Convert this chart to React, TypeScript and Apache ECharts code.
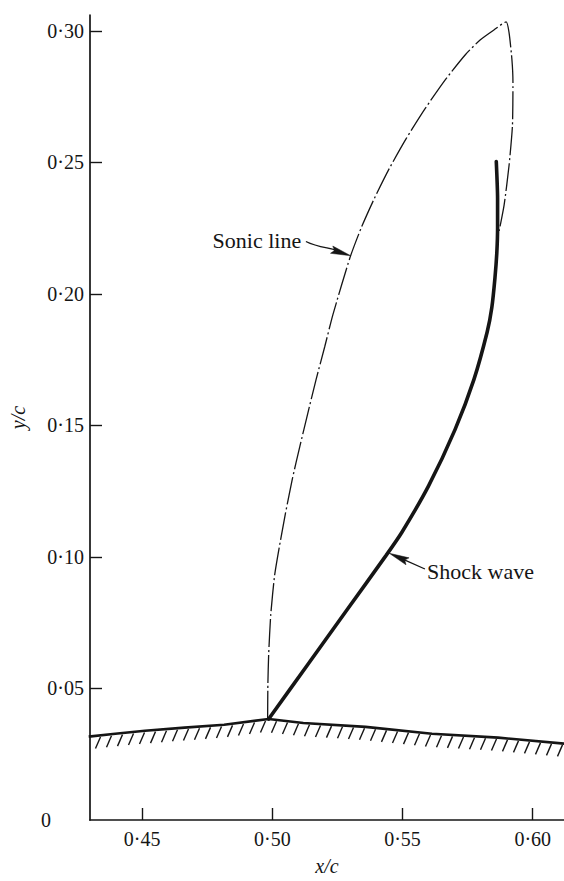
import React, { useEffect, useRef } from 'react';
import * as echarts from 'echarts';

// Tick values
const xTicks = [0.45, 0.5, 0.55, 0.6];
const yTicks = [0, 0.05, 0.1, 0.15, 0.2, 0.25, 0.3];

// Wall (body surface)
const wallX = [0.4295, 0.4397, 0.4511, 0.4663, 0.4815, 0.4986, 0.5119, 0.5358, 0.5613, 0.5867, 0.6122];
const wallY = [0.0317, 0.0328, 0.0339, 0.0351, 0.0362, 0.0384, 0.0369, 0.0354, 0.0328, 0.0313, 0.029];

// Shock wave (from top to foot)
const shockX = [0.586, 0.5865, 0.5865, 0.5862, 0.5855, 0.5843, 0.5825, 0.5774, 0.5702, 0.56, 0.5497, 0.5437, 0.5287, 0.5137, 0.4986];
const shockY = [0.2503, 0.2363, 0.225, 0.2156, 0.2062, 0.1949, 0.1855, 0.1674, 0.1485, 0.127, 0.1093, 0.1006, 0.0799, 0.0592, 0.0384];

// Sonic line (from foot, up over the top, down to the shock)
const sonicX = [0.4982, 0.4983, 0.4986, 0.4994, 0.5009, 0.5028, 0.5051, 0.5077, 0.5106, 0.5136, 0.5168, 0.5201, 0.5233, 0.5298, 0.5341, 0.5392, 0.5449, 0.5514, 0.5586, 0.5666, 0.5742, 0.5799, 0.5852, 0.5898, 0.5909, 0.592, 0.5924, 0.5922, 0.5909, 0.589, 0.5871];
const sonicY = [0.0384, 0.0516, 0.0629, 0.078, 0.0931, 0.1044, 0.1168, 0.1297, 0.1421, 0.1545, 0.1674, 0.1798, 0.1922, 0.2137, 0.225, 0.2363, 0.2476, 0.259, 0.2703, 0.2816, 0.291, 0.2966, 0.3004, 0.3034, 0.2993, 0.2891, 0.2804, 0.2639, 0.2488, 0.2337, 0.2239];

// Annotations
const noteTexts = ['Sonic line', 'Shock wave'];
const noteAlign = ['right', 'left'];
const noteX = [0.5111, 0.5594];
const noteY = [0.2201, 0.0946];
const arrowFromX = [0.5129, 0.5586];
const arrowFromY = [0.2199, 0.0954];
const arrowToX = [0.5301, 0.5449];
const arrowToY = [0.2145, 0.1014];

const INK = '#151515';
const SERIF = "'Liberation Serif', 'DejaVu Serif', serif";

const fmt = (v: number) => (Math.abs(v) < 1e-9 ? '{z|0}' : v.toFixed(2).replace('.', '\u00b7'));

export default function App() {
  const ref = useRef<HTMLDivElement>(null);
  useEffect(() => {
    if (!ref.current) return;
    const chart = echarts.init(ref.current, undefined, { renderer: 'svg' });
    const option: any = {
      animation: false,
      backgroundColor: '#ffffff',
      textStyle: { fontFamily: SERIF },
      grid: { left: 84, right: 0, top: 15, bottom: 54, containLabel: false },
      xAxis: {
        type: 'value',
        min: 0.43,
        max: 0.612,
        name: 'x/c',
        nameLocation: 'middle',
        nameGap: 36,
        nameTextStyle: { fontFamily: SERIF, fontSize: 20, fontStyle: 'italic', color: INK },
        axisLine: { show: true, lineStyle: { color: INK, width: 1.7 } },
        axisTick: { show: true, inside: true, length: 12, customValues: xTicks, lineStyle: { color: INK, width: 1.4 } },
        axisLabel: { customValues: xTicks, formatter: fmt, margin: 9, fontFamily: SERIF, fontSize: 20, color: INK },
        splitLine: { show: false },
      },
      yAxis: {
        type: 'value',
        min: 0,
        max: 0.306,
        name: 'y/c',
        nameLocation: 'middle',
        nameRotate: 90,
        nameGap: 62,
        nameTextStyle: { fontFamily: SERIF, fontSize: 20, fontStyle: 'italic', color: INK },
        axisLine: { show: true, lineStyle: { color: INK, width: 1.7 } },
        axisTick: { show: true, inside: true, length: 12, customValues: yTicks.filter((v) => v > 0), lineStyle: { color: INK, width: 1.4 } },
        axisLabel: {
          customValues: yTicks,
          formatter: fmt,
          margin: 6,
          fontFamily: SERIF,
          fontSize: 20,
          color: INK,
          rich: { z: { fontFamily: SERIF, fontSize: 20, color: INK, padding: [0, 33, 0, 0] } },
        },
        splitLine: { show: false },
      },
      series: [
        {
          type: 'line',
          name: 'wall',
          data: wallX.map((x, i) => [x, wallY[i]]),
          symbol: 'none',
          lineStyle: { color: INK, width: 2.6 },
          z: 3,
        },
        {
          type: 'custom',
          name: 'hatch',
          data: wallX.map((x, i) => [x, wallY[i]]),
          silent: true,
          z: 2,
          renderItem: (params: any, api: any) => {
            const i = params.dataIndex;
            if (i >= wallX.length - 1) return { type: 'group', children: [] };
            const p0 = api.coord([wallX[i], wallY[i]]);
            const p1 = api.coord([wallX[i + 1], wallY[i + 1]]);
            const step = 11;
            const children: any[] = [];
            for (let x = Math.ceil((p0[0] + 2) / step) * step; x < p1[0]; x += step) {
              const t = (x - p0[0]) / (p1[0] - p0[0]);
              const y = p0[1] + t * (p1[1] - p0[1]);
              children.push({
                type: 'line',
                shape: { x1: x + 1.5, y1: y + 1.5, x2: x - 3.5, y2: y + 13 },
                style: { stroke: INK, lineWidth: 1.4 },
              });
            }
            return { type: 'group', children };
          },
        },
        {
          type: 'line',
          name: 'Sonic line',
          data: sonicX.map((x, i) => [x, sonicY[i]]),
          symbol: 'none',
          smooth: 0.2,
          lineStyle: { color: INK, width: 1.3, type: [28, 3, 2, 3] },
          z: 4,
        },
        {
          type: 'line',
          name: 'Shock wave',
          data: shockX.map((x, i) => [x, shockY[i]]),
          symbol: 'none',
          smooth: 0.2,
          lineStyle: { color: INK, width: 3.6, cap: 'round' },
          z: 5,
        },
        {
          type: 'custom',
          name: 'notes',
          data: noteTexts.map((t, i) => [noteX[i], noteY[i]]),
          silent: true,
          z: 6,
          renderItem: (params: any, api: any) => {
            const i = params.dataIndex;
            const p = api.coord([noteX[i], noteY[i]]);
            const a = api.coord([arrowFromX[i], arrowFromY[i]]);
            const b = api.coord([arrowToX[i], arrowToY[i]]);
            const dx = b[0] - a[0];
            const dy = b[1] - a[1];
            const L = Math.hypot(dx, dy);
            const ux = dx / L;
            const uy = dy / L;
            const nx = -uy;
            const ny = ux;
            const headLen = 20;
            const headW = 3.8;
            const base = [b[0] - ux * headLen, b[1] - uy * headLen];
            const w = i === 0 ? 2.5 : 0;
            return {
              type: 'group',
              children: [
                {
                  type: 'bezierCurve',
                  shape: {
                    x1: a[0],
                    y1: a[1],
                    cpx1: a[0] + dx * 0.33 + nx * w,
                    cpy1: a[1] + dy * 0.33 + ny * w,
                    cpx2: a[0] + dx * 0.6 - nx * w,
                    cpy2: a[1] + dy * 0.6 - ny * w,
                    x2: base[0] + ux * 4,
                    y2: base[1] + uy * 4,
                  },
                  style: { stroke: INK, lineWidth: 1.3, fill: 'none' },
                },
                {
                  type: 'polygon',
                  shape: {
                    points: [
                      [b[0], b[1]],
                      [base[0] + nx * headW, base[1] + ny * headW],
                      [base[0] + ux * 3, base[1] + uy * 3],
                      [base[0] - nx * headW, base[1] - ny * headW],
                    ],
                  },
                  style: { fill: INK, stroke: INK, lineWidth: 0.5 },
                },
                {
                  type: 'text',
                  style: {
                    text: noteTexts[i],
                    x: p[0],
                    y: p[1],
                    align: noteAlign[i],
                    verticalAlign: 'middle',
                    font: "22px 'Liberation Serif', serif",
                    fontFamily: 'Liberation Serif',
                    fontSize: 22,
                    fill: INK,
                  },
                },
              ],
            };
          },
        },
      ],
    };
    chart.setOption(option);
    return () => chart.dispose();
  }, []);
  return <div ref={ref} style={{ position: 'fixed', left: 0, top: 0, width: 564, height: 881, background: '#fff' }} />;
}
